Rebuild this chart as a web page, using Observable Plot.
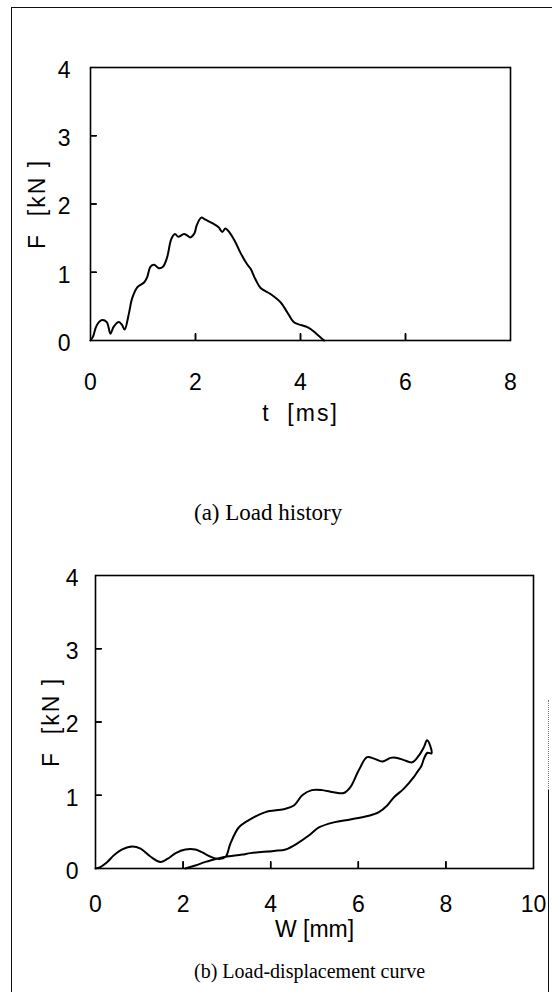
<!DOCTYPE html>
<html>
<head>
<meta charset="utf-8">
<script src="https://cdn.jsdelivr.net/npm/d3@7"></script>
<script src="https://cdn.jsdelivr.net/npm/@observablehq/plot@0.6"></script>
<style>
  html, body { margin: 0; padding: 0; background: #fff; }
  #page { position: relative; width: 552px; height: 992px; overflow: hidden; background: #fff; }
  .chart { position: absolute; left: 0; }
  .chart svg text { white-space: pre; }
  .cap { position: absolute; left: 194px; font-family: "Liberation Serif", "Times New Roman", serif; color: #000; line-height: 1; white-space: pre; }
  #borderTL { position: absolute; left: 11px; top: 7px; width: 600px; height: 1100px; border-left: 1.5px solid #111; border-top: 1.5px solid #111; }
  #borderR { position: absolute; left: 548px; top: 790px; width: 0; height: 210px; border-left: 1.5px solid #111; }
  #borderRdots { position: absolute; left: 548px; top: 700px; width: 0; height: 90px; border-left: 1.5px dotted #777; }
</style>
</head>
<body>
<div id="page">
  <div id="borderTL"></div>
  <div id="borderRdots"></div>
  <div id="borderR"></div>
  <div id="chartA" class="chart" style="top:0px"></div>
  <div class="cap" style="top:501px;font-size:23px">(a) Load history</div>
  <div id="chartB" class="chart" style="top:500px"></div>
  <div class="cap" style="top:961px;font-size:20px">(b) Load-displacement curve</div>
</div>
<script>
// (a) Load history: time [ms] and force [kN]
const historyTime = [0, 0.05, 0.10, 0.16, 0.22, 0.31, 0.38, 0.44, 0.54, 0.60, 0.65, 0.73, 0.79, 0.89, 1.02, 1.08, 1.14, 1.21, 1.30, 1.38, 1.46, 1.54, 1.61, 1.67, 1.78, 1.84, 1.90, 1.98, 2.02, 2.11, 2.19, 2.32, 2.44, 2.51, 2.57, 2.65, 2.76, 2.86, 2.98, 3.05, 3.14, 3.24, 3.43, 3.62, 3.75, 3.87, 3.95, 4.15, 4.30, 4.45];
const historyForce = [0, 0.06, 0.19, 0.27, 0.30, 0.27, 0.10, 0.20, 0.27, 0.23, 0.16, 0.39, 0.61, 0.78, 0.85, 0.93, 1.08, 1.11, 1.06, 1.08, 1.22, 1.49, 1.56, 1.52, 1.56, 1.54, 1.51, 1.57, 1.68, 1.80, 1.77, 1.72, 1.66, 1.59, 1.64, 1.58, 1.44, 1.28, 1.12, 1.05, 0.90, 0.77, 0.68, 0.56, 0.41, 0.27, 0.24, 0.19, 0.10, 0];

// (b) Load-displacement: loading branch then unloading branch
const loadingW = [0, 0.11, 0.27, 0.42, 0.61, 0.84, 1.03, 1.26, 1.48, 1.64, 1.83, 2.05, 2.28, 2.44, 2.63, 2.82, 2.97, 3.08, 3.27, 3.50, 3.88, 4.30, 4.53, 4.72, 4.94, 5.18, 5.44, 5.67, 5.82, 6.01, 6.20, 6.36, 6.55, 6.74, 6.89, 7.04, 7.23, 7.38, 7.50, 7.57];
const loadingF = [0, 0.02, 0.09, 0.18, 0.26, 0.30, 0.27, 0.16, 0.09, 0.13, 0.21, 0.26, 0.26, 0.22, 0.16, 0.13, 0.16, 0.34, 0.56, 0.66, 0.77, 0.81, 0.86, 1.00, 1.07, 1.07, 1.04, 1.03, 1.11, 1.34, 1.52, 1.50, 1.46, 1.51, 1.51, 1.48, 1.45, 1.54, 1.66, 1.75];
const unloadingW = [7.65, 7.67, 7.58, 7.50, 7.44, 7.36, 7.27, 7.04, 6.81, 6.66, 6.47, 6.24, 5.82, 5.44, 5.10, 4.87, 4.60, 4.34, 4.07, 3.54, 3.35, 2.97, 2.82, 2.51, 2.28, 2.05];
const unloadingF = [1.66, 1.57, 1.58, 1.50, 1.40, 1.33, 1.25, 1.09, 0.97, 0.86, 0.77, 0.72, 0.67, 0.63, 0.56, 0.45, 0.34, 0.26, 0.24, 0.21, 0.19, 0.16, 0.14, 0.09, 0.04, 0];

// Tick labels
const tTicks = [0, 2, 4, 6, 8];
const wTicks = [0, 2, 4, 6, 8, 10];
const fTicks = [0, 1, 2, 3, 4];

const history = historyTime.map((t, i) => ({t, F: historyForce[i]}));
const curve = loadingW.map((w, i) => ({W: w, F: loadingF[i]}))
  .concat(unloadingW.map((w, i) => ({W: w, F: unloadingF[i]})));

const fontStyle = {fontFamily: "'Liberation Sans', Arial, Helvetica, sans-serif", fontSize: "23px", color: "#000", background: "transparent", overflow: "visible"};

// layout of the two panels
const W = 552;
const A = {height: 450, marginLeft: 90, marginRight: 42, marginTop: 67, marginBottom: 110};
const B = {height: 450, marginLeft: 95, marginRight: 19, marginTop: 75, marginBottom: 82};
const xTickLen = 7, yTickLen = 6;
const noText = () => "";

// inward tick marks: a top axis shifted down onto the bottom edge, a right axis shifted onto the left edge,
// plus short rules pinned to the same edges
function inwardTicks(dim, xt, yt) {
  const innerH = dim.height - dim.marginTop - dim.marginBottom;
  const innerW = W - dim.marginLeft - dim.marginRight;
  return [
    Plot.axisX({anchor: "top", ticks: xt, tickSize: xTickLen, tickFormat: noText, label: null, dy: innerH, strokeWidth: 1.5}),
    Plot.axisY({anchor: "right", ticks: yt, tickSize: yTickLen, tickFormat: noText, label: null, dx: -innerW, strokeWidth: 1.5}),
    Plot.ruleX(xt, {x: d => d, insetTop: innerH - xTickLen, stroke: "#000", strokeWidth: 1.5}),
    Plot.ruleY(yt, {y: d => d, insetRight: innerW - yTickLen, stroke: "#000", strokeWidth: 1.5})
  ];
}

const yAxis = (padding, labelOffset) => Plot.axisY({ticks: fTicks, tickFormat: d => String(d), tickSize: 0, tickPadding: padding, dy: 3,
  label: "F  [kN ]", labelAnchor: "center", labelArrow: "none", labelOffset});

const chartA = Plot.plot({
  width: W, ...A,
  style: fontStyle,
  x: {domain: [0, 8]},
  y: {domain: [0, 4]},
  marks: [
    Plot.axisX({ticks: tTicks, tickFormat: d => String(d), tickSize: 0, tickPadding: 33,
      label: "t  [ms]", labelAnchor: "center", labelArrow: "none", labelOffset: 80}),
    yAxis(20, 62),
    ...inwardTicks(A, tTicks.slice(1, -1), fTicks.slice(1, -1)),
    Plot.frame({stroke: "#000", strokeWidth: 1.6}),
    Plot.line(history, {x: "t", y: "F", stroke: "#000", strokeWidth: 2, curve: "catmull-rom"})
  ]
});
document.getElementById("chartA").appendChild(chartA);

const chartB = Plot.plot({
  width: W, ...B,
  style: fontStyle,
  x: {domain: [0, 10]},
  y: {domain: [0, 4]},
  marks: [
    Plot.axisX({ticks: wTicks, tickFormat: d => String(d), tickSize: 0, tickPadding: 27,
      label: "W [mm]", labelAnchor: "center", labelArrow: "none", labelOffset: 68}),
    yAxis(17, 53),
    ...inwardTicks(B, wTicks.slice(1, -1), fTicks.slice(1, -1)),
    Plot.frame({stroke: "#000", strokeWidth: 1.6}),
    Plot.line(curve, {x: "W", y: "F", stroke: "#000", strokeWidth: 2, curve: "catmull-rom"})
  ]
});
document.getElementById("chartB").appendChild(chartB);

// letter spacing on the two "F" labels and the time label, as in the scan
document.querySelectorAll('#chartA [aria-label="y-axis label"] text, #chartB [aria-label="y-axis label"] text, #chartA [aria-label="x-axis label"] text')
  .forEach(el => el.setAttribute("letter-spacing", "2"));
</script>
</body>
</html>
